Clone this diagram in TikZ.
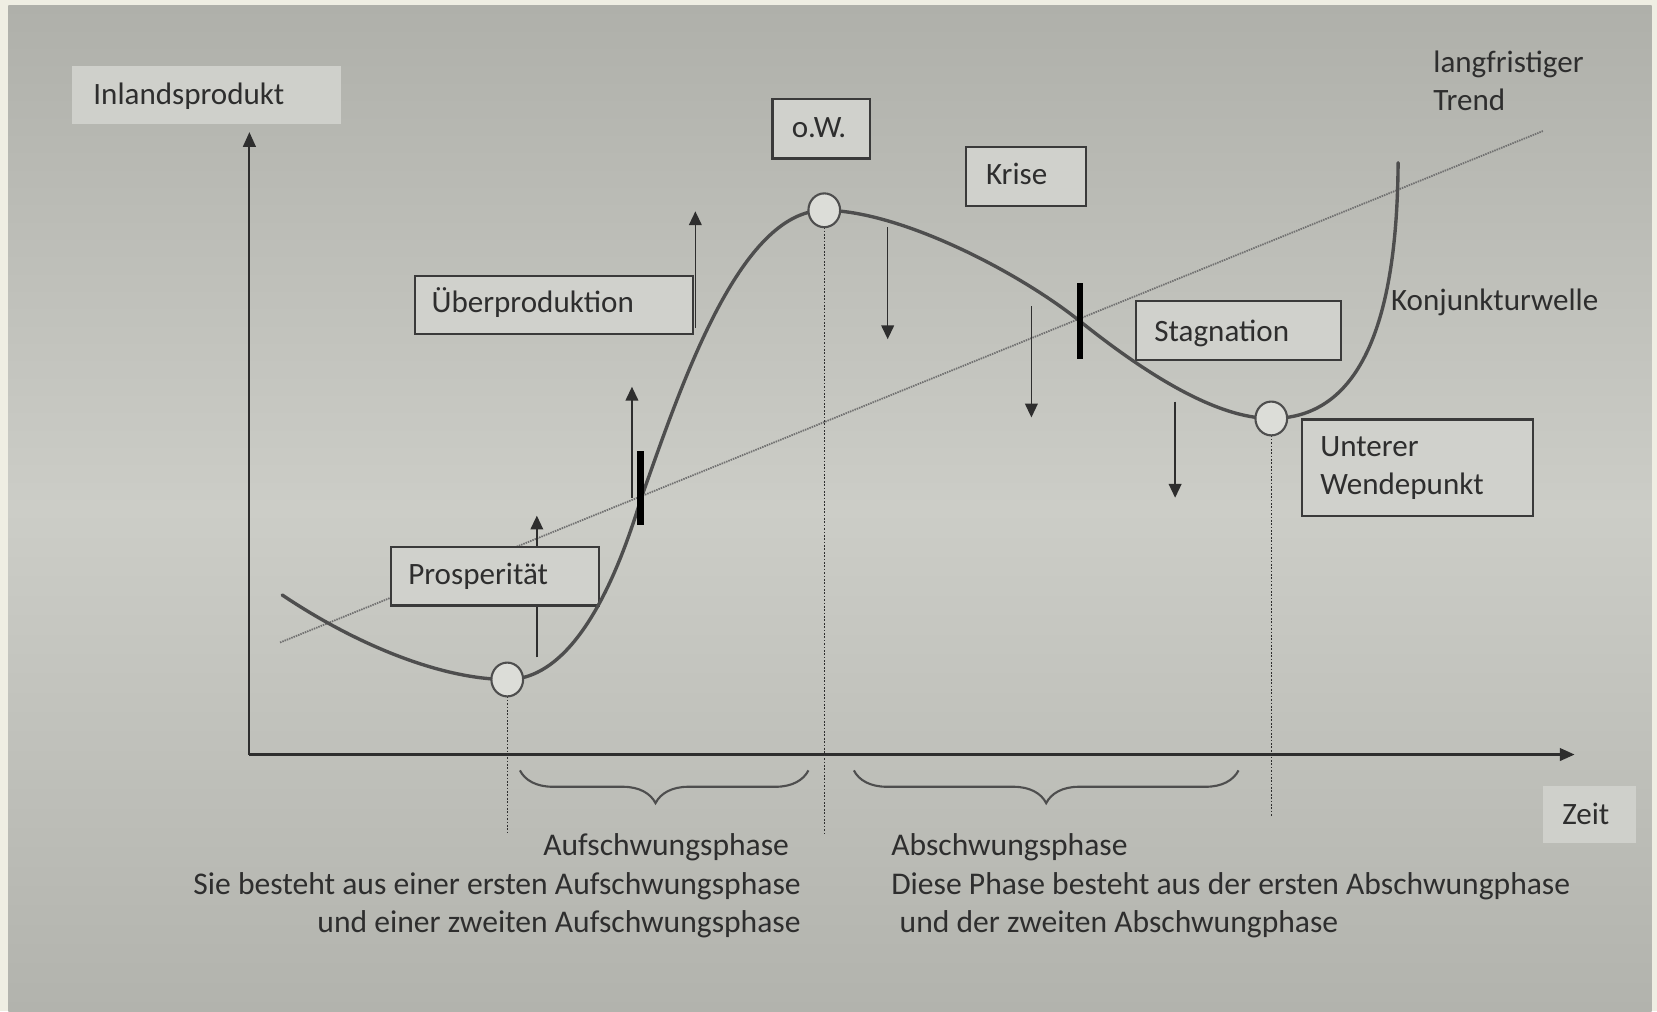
\documentclass[tikz,border=0pt]{standalone}
\usepackage{fontspec}
\setmainfont{Carlito}
\usetikzlibrary{arrows.meta,shapes.geometric,decorations.pathreplacing}
\definecolor{cream}{HTML}{EFEEE3}
\definecolor{bgtop}{HTML}{AFB0AA}
\definecolor{bgmid}{HTML}{CCCDC7}
\definecolor{bgbot}{HTML}{B2B3AD}
\definecolor{boxfill}{HTML}{D0D1CC}
\definecolor{lbox}{HTML}{CFD0CB}
\definecolor{boxline}{HTML}{3A3A3A}
\definecolor{ink}{HTML}{2E2E2E}
\definecolor{curvecol}{HTML}{4E4E4E}
\definecolor{trendcol}{HTML}{707070}
\definecolor{ringfill}{HTML}{DCDDD8}
\begin{document}
\begin{tikzpicture}[x=0.5pt,y=-0.5pt,
  txt/.style={inner sep=0pt, text=ink, font=\fontsize{14.7}{18}\selectfont},
  btxt/.style={inner sep=0pt, text=ink, font=\fontsize{14.95}{18}\selectfont},
  box/.style={draw=boxline, line width=1pt, fill=boxfill, inner sep=0pt, anchor=north west},
  plainbox/.style={fill=lbox, inner sep=0pt, anchor=north west},
  axis/.style={draw=ink, line width=1pt, -{Triangle[length=7pt,width=6pt]}},
  move/.style={draw=ink, line width=0.7pt, -{Triangle[length=6.5pt,width=6pt]}},
  wave/.style={draw=curvecol, line width=1.6pt, line cap=round},
  trend/.style={draw=trendcol, line width=0.85pt, dash pattern=on 0.7pt off 0.45pt},
  guide/.style={draw=ink, line width=0.5pt, dash pattern=on 0.8pt off 0.8pt},
  ring/.style={ellipse, draw=curvecol, line width=1pt, fill=ringfill, minimum width=15pt, minimum height=16pt, inner sep=0pt},
  tickbar/.style={rectangle, fill=black, minimum width=3pt, inner sep=0pt},
  brc/.style={draw=curvecol, line width=1pt, decorate, decoration={brace, mirror, amplitude=15.5pt, aspect=#1}}
]
\useasboundingbox (0,0) rectangle (1568,957);
% background
\fill[cream] (0,0) rectangle (1568,957);
\shade[top color=bgtop, bottom color=bgbot, middle color=bgmid] (8,5) rectangle (1563,957);

% trend line
\coordinate (tr0) at (265,608);
\coordinate (tr1) at (1460,124);
\draw[trend] (tr0) -- (tr1);

% axes
\coordinate (O) at (236,714);
\coordinate (ytop) at (236,125);
\coordinate (xend) at (1490,714);
\draw[axis] (O) -- (ytop);
\draw[axis] (O) -- (xend);

% turning point positions and guides
\path (480,643) coordinate (cA) (780,199) coordinate (cB) (1203,396) coordinate (cC);
\coordinate (gA) at (480,788);
\coordinate (gB) at (780,790);
\coordinate (gC) at (1203,773);
\draw[guide] (cA) -- (gA);
\draw[guide] (cB) -- (gB);
\draw[guide] (cC) -- (gC);

% braces
\coordinate (br1a) at (492,729);
\coordinate (br1b) at (765,729);
\coordinate (br2a) at (808,729);
\coordinate (br2b) at (1172,729);
\draw[brc=0.47] (br1a) -- (br1b);
\draw[brc=0.5] (br2a) -- (br2b);

% movement arrows
\coordinate (a1s) at (508,622); \coordinate (a1e) at (508,488);
\coordinate (a2s) at (598,471); \coordinate (a2e) at (598,366);
\coordinate (a3s) at (658,310); \coordinate (a3e) at (658,200);
\coordinate (d1s) at (840,215); \coordinate (d1e) at (840,321);
\coordinate (d2s) at (976,290); \coordinate (d2e) at (976,395);
\coordinate (d3s) at (1112,380); \coordinate (d3e) at (1112,471);
\draw[move] (a1s) -- (a1e);
\draw[move] (a2s) -- (a2e);
\draw[move] (a3s) -- (a3e);
\draw[move] (d1s) -- (d1e);
\draw[move] (d2s) -- (d2e);
\draw[move] (d3s) -- (d3e);

% boxes
\node[plainbox, minimum width=127pt, minimum height=27.5pt] (binland) at (68,62) {};
\node[plainbox, minimum width=44pt, minimum height=27pt] (bzeit) at (1460,743) {};
\node[box, minimum width=46pt, minimum height=28pt] (bow) at (730,93) {};
\node[box, minimum width=57pt, minimum height=28pt] (bkrise) at (913,138) {};
\node[box, minimum width=131.5pt, minimum height=27.5pt] (bueber) at (392,260) {};
\node[box, minimum width=97pt, minimum height=28pt] (bstag) at (1074,284) {};
\node[box, minimum width=98.5pt, minimum height=27.5pt] (bprosp) at (369,517) {};
\node[box, minimum width=109.5pt, minimum height=45.5pt] (buwp) at (1231,396) {};

% texts
\node[txt, anchor=base west] (tinland) at (88,99) {Inlandsprodukt};
\node[txt, anchor=base] (tow) at (775,130) {o.W.};
\node[txt, anchor=base] (tkrise) at (962,175) {Krise};
\node[txt, anchor=base west] (tlang) at (1356,69) {langfristiger};
\node[txt, anchor=base west] (ttrend) at (1356,105) {Trend};
\node[txt, anchor=base west] (tueber) at (408,296) {Überproduktion};
\node[txt, anchor=base west] (tkonj) at (1316,294) {Konjunkturwelle};
\node[txt, anchor=base west] (tstag) at (1092,323) {Stagnation};
\node[txt, anchor=base west] (tunt) at (1249,432) {Unterer};
\node[txt, anchor=base west] (twende) at (1249,468) {Wendepunkt};
\node[txt, anchor=base west] (tprosp) at (386,553) {Prosperität};
\node[txt, anchor=base west] (tzeit) at (1478,780) {Zeit};
\node[btxt, anchor=base east] (tauf) at (747,810) {Aufschwungsphase};
\node[btxt, anchor=base east] (tauf2) at (758,846) {Sie besteht aus einer ersten Aufschwungsphase};
\node[btxt, anchor=base east] (tauf3) at (758,882) {und einer zweiten Aufschwungsphase};
\node[btxt, anchor=base west] (tab) at (843,810) {Abschwungsphase};
\node[btxt, anchor=base west] (tab2) at (843,846) {Diese Phase besteht aus der ersten Abschwungphase};
\node[btxt, anchor=base west] (tab3) at (851,882) {und der zweiten Abschwungphase};

% wave (Konjunkturwelle)
\draw[wave] (267,563) .. controls (340,612) and (420,643) .. (cA)
  .. controls (560,643) and (600,490) .. (609,465)
  .. controls (645,364) and (700,199) .. (cB)
  .. controls (850,199) and (962,256) .. (1022,304)
  .. controls (1082,352) and (1150,396) .. (cC)
  .. controls (1280,396) and (1322,320) .. (1323,154);

% rings
\node[ring] (rA) at (cA) {};
\node[ring] (rB) at (cB) {};
\node[ring] (rC) at (cC) {};

% tick bars
\node[tickbar, minimum height=35pt] (tick1) at (606,462) {};
\node[tickbar, minimum height=36pt] (tick2) at (1022,304) {};
\end{tikzpicture}
\end{document}
